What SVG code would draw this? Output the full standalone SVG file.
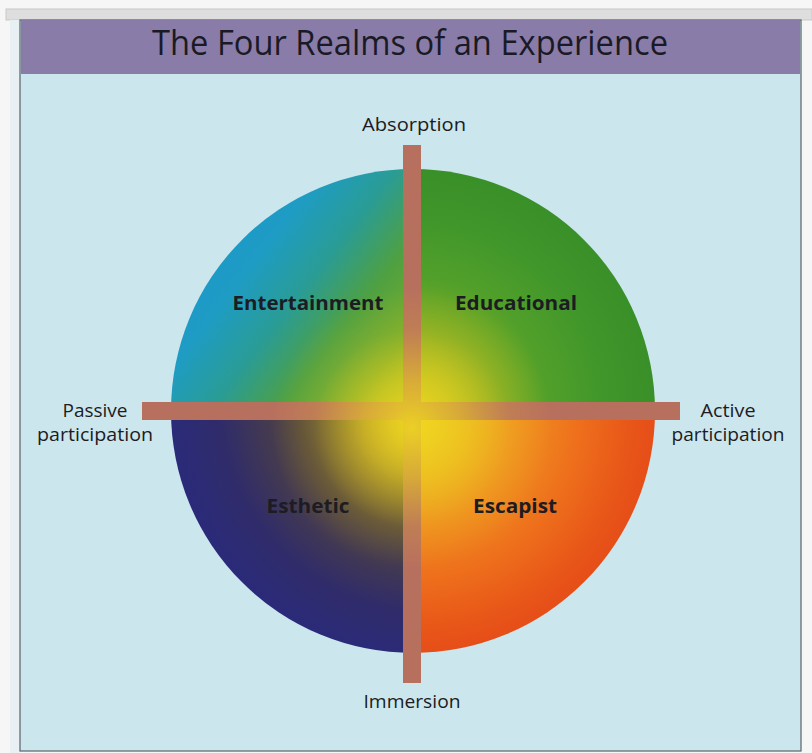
<svg xmlns="http://www.w3.org/2000/svg" width="812" height="753" viewBox="0 0 812 753">
<style>
.lbl{font-family:"Open Sans","Liberation Sans",sans-serif;fill:#1c1c22;text-anchor:middle}
.ax{font-size:18px;font-weight:500}
.q{font-size:19px;font-weight:700}
.bar{fill:#b8705e}
</style>
<defs>
<linearGradient id="gTL" gradientUnits="userSpaceOnUse" x1="190" y1="230" x2="410" y2="400">
<stop offset="0" stop-color="#1a96cc"/>
<stop offset="0.25" stop-color="#1e9cc4"/>
<stop offset="0.45" stop-color="#2a9c96"/>
<stop offset="0.65" stop-color="#4ea042"/>
<stop offset="0.85" stop-color="#74ac2c"/>
<stop offset="1" stop-color="#a8c024"/>
</linearGradient>
<radialGradient id="gTR" gradientUnits="userSpaceOnUse" cx="413" cy="411" r="242">
<stop offset="0" stop-color="#c8cc20"/>
<stop offset="0.3" stop-color="#8cb024"/>
<stop offset="0.55" stop-color="#52a02a"/>
<stop offset="0.8" stop-color="#40962a"/>
<stop offset="1" stop-color="#3a9028"/>
</radialGradient>
<radialGradient id="gBL" gradientUnits="userSpaceOnUse" cx="432" cy="400" r="265">
<stop offset="0" stop-color="#e8d020"/>
<stop offset="0.16" stop-color="#b8a02a"/>
<stop offset="0.34" stop-color="#786834"/>
<stop offset="0.5" stop-color="#56483c"/>
<stop offset="0.63" stop-color="#443a50"/>
<stop offset="0.8" stop-color="#302c6a"/>
<stop offset="1" stop-color="#2a2a7a"/>
</radialGradient>
<radialGradient id="gBR" gradientUnits="userSpaceOnUse" cx="413" cy="411" r="242">
<stop offset="0" stop-color="#f0d020"/>
<stop offset="0.2" stop-color="#f0b420"/>
<stop offset="0.42" stop-color="#f09420"/>
<stop offset="0.68" stop-color="#ee701c"/>
<stop offset="0.9" stop-color="#e85618"/>
<stop offset="1" stop-color="#e64e18"/>
</radialGradient>
<radialGradient id="glow" gradientUnits="userSpaceOnUse" cx="412" cy="428" r="140">
<stop offset="0" stop-color="#f0d820" stop-opacity="0.92"/>
<stop offset="0.35" stop-color="#ecd020" stop-opacity="0.6"/>
<stop offset="0.7" stop-color="#e8cc20" stop-opacity="0.15"/>
<stop offset="1" stop-color="#e8cc20" stop-opacity="0"/>
</radialGradient>
<clipPath id="circ"><circle cx="413" cy="411" r="242"/></clipPath>
</defs>

<g id="frame">
<rect x="0" y="0" width="812" height="753" fill="#f6f6f6"/>
<rect x="6" y="9" width="806" height="11" fill="#dedede" stroke="#c8c8c8" stroke-width="1"/>
<rect x="10" y="20" width="10" height="733" fill="#e8f0f3"/>
<rect x="20" y="20" width="781" height="731" fill="#cce6ee" stroke="#5a6268" stroke-width="1.2"/>
<rect x="21" y="20" width="779" height="54" fill="#8a7ca8"/>
</g>

<g id="title">
<text x="410" y="55" style="font-family:'Open Sans','Liberation Sans',sans-serif;font-size:34px;fill:#1a1a26;text-anchor:middle" textLength="516" lengthAdjust="spacingAndGlyphs">The Four Realms of an Experience</text>
</g>

<g id="circle">
<path id="q-entertainment" d="M413,411 L171,411 A242,242 0 0 1 413,169 Z" fill="url(#gTL)"/>
<path id="q-educational" d="M413,411 L413,169 A242,242 0 0 1 655,411 Z" fill="url(#gTR)"/>
<path id="q-escapist" d="M413,411 L655,411 A242,242 0 0 1 413,653 Z" fill="url(#gBR)"/>
<path id="q-esthetic" d="M413,411 L413,653 A242,242 0 0 1 171,411 Z" fill="url(#gBL)"/>
</g>

<g id="connectors">
<rect id="axis-vertical" class="bar" x="403" y="145" width="18" height="538"/>
<rect id="axis-horizontal" class="bar" x="142" y="402" width="538" height="18"/>
</g>

<g id="center-glow">
<circle cx="413" cy="411" r="242" fill="url(#glow)" clip-path="url(#circ)"/>
</g>

<g id="n-entertainment"><text class="lbl q" x="308" y="310" textLength="151" lengthAdjust="spacingAndGlyphs">Entertainment</text></g>
<g id="n-educational"><text class="lbl q" x="516" y="310" textLength="122" lengthAdjust="spacingAndGlyphs">Educational</text></g>
<g id="n-esthetic"><text class="lbl q" x="308" y="513" textLength="83" lengthAdjust="spacingAndGlyphs">Esthetic</text></g>
<g id="n-escapist"><text class="lbl q" x="515" y="513" textLength="84" lengthAdjust="spacingAndGlyphs">Escapist</text></g>

<g id="n-absorption"><text class="lbl ax" x="414" y="131" textLength="104" lengthAdjust="spacingAndGlyphs">Absorption</text></g>
<g id="n-immersion"><text class="lbl ax" x="412" y="708" textLength="97" lengthAdjust="spacingAndGlyphs">Immersion</text></g>
<g id="n-passive">
<text class="lbl ax" x="95" y="417" textLength="65" lengthAdjust="spacingAndGlyphs">Passive</text>
<text class="lbl ax" x="95" y="441" textLength="116" lengthAdjust="spacingAndGlyphs">participation</text>
</g>
<g id="n-active">
<text class="lbl ax" x="728" y="417" textLength="55" lengthAdjust="spacingAndGlyphs">Active</text>
<text class="lbl ax" x="728" y="441" textLength="113" lengthAdjust="spacingAndGlyphs">participation</text>
</g>
</svg>
